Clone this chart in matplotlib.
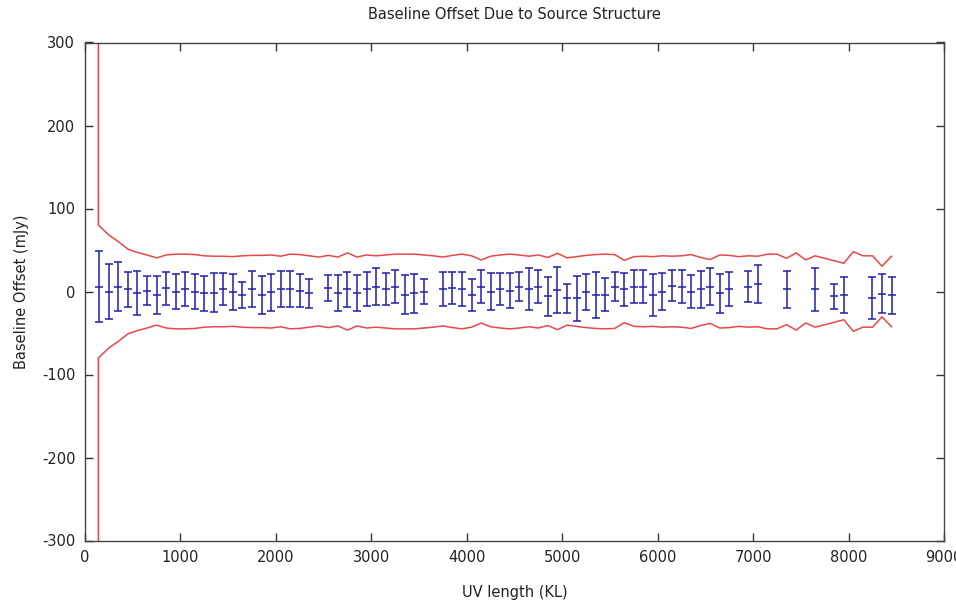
import matplotlib
matplotlib.use("Agg")
import matplotlib.pyplot as plt
import numpy as np

# ---- data ----
bar_x = [150, 250, 350, 450, 550, 650, 750, 850, 950, 1050, 1150, 1250, 1350, 1450,
         1550, 1650, 1750, 1850, 1950, 2050, 2150, 2250, 2350,
         2550, 2650, 2750, 2850, 2950, 3050, 3150, 3250, 3350, 3450, 3550,
         3750, 3850, 3950, 4050, 4150, 4250, 4350, 4450, 4550, 4650, 4750, 4850,
         4950, 5050, 5150, 5250, 5350, 5450, 5550, 5650, 5750, 5850, 5950, 6050,
         6150, 6250, 6350, 6450, 6550, 6650, 6750,
         6950, 7050, 7350, 7650, 7850, 7950, 8250, 8350, 8450]
bar_y = [6, 0, 6, 2.5, -1.5, 1, -4, 4, 0, 2.5, 0, -2, -1.5, 3,
         -1, -4, 3, -4, -1, 3, 3, 1, -2,
         4.5, -2, 2.5, -2, 3, 6, 3, 6, -4, -2, 0,
         3, 4, 3, -4, 6, 0, 3, 1, 6, 3, 6, -6,
         2, -8, -8, -1, -4, -4, 6, 2.5, 6, 6, -4, 0,
         7, 6, 0, 2.5, 6, -2, 2.5,
         6, 9, 2.5, 2.5, -6, -4.5, -8, -2.5, -4.5]
bar_err = [42.5, 33, 29, 21, 26.5, 17.5, 23, 20, 21, 20.5, 21, 21, 23.5, 19.5,
           21.5, 16, 21.5, 23, 22.5, 22, 21.5, 20, 17.5,
           15.5, 21.5, 21, 22, 21, 22.5, 19.5, 19.5, 23.5, 23.5, 15.5,
           20, 19.5, 20, 19.5, 19.5, 22.5, 19.5, 21, 17.5, 25, 19.5, 24,
           27.5, 17.5, 27, 21.5, 28, 20, 18, 19.5, 20, 19.5, 25, 22.5,
           18.5, 19.5, 19.5, 22.5, 22, 23.5, 20.5,
           19, 22.5, 22, 26, 15, 21.5, 25, 23, 22.5]

env_x = [40, 140, 250, 350, 450, 550, 650, 750, 850, 950, 1050, 1150, 1250, 1350,
         1450, 1550, 1650, 1750, 1850, 1950, 2050, 2150, 2250, 2350, 2450, 2550,
         2650, 2750, 2850, 2950, 3050, 3150, 3250, 3350, 3450, 3550, 3650, 3750,
         3850, 3950, 4050, 4150, 4250, 4350, 4450, 4550, 4650, 4750, 4850, 4950,
         5050, 5150, 5250, 5350, 5450, 5550, 5650, 5750, 5850, 5950, 6050, 6150,
         6250, 6350, 6450, 6550, 6650, 6750, 6850, 6950, 7050, 7150, 7250, 7350,
         7450, 7550, 7650, 7750, 7850, 7950, 8050, 8150, 8250, 8350, 8450]
env_upper = [100000, 80, 68, 60, 51, 47, 44, 40.5, 44, 45, 45, 44.5, 43, 42.5,
             42.5, 42, 43, 43.5, 43.5, 44, 42.5, 45, 44.5, 43, 41.5, 43.5,
             41.5, 46.5, 41.5, 44, 43, 44, 45, 45, 45, 44, 43, 41.5,
             43.5, 45, 43, 38, 42.5, 44, 45, 44, 42.5, 44, 41, 46,
             40.5, 42, 43.5, 44.5, 45, 44.5, 37.5, 42, 42.5, 42, 43, 42.5,
             43, 44.5, 41, 38.5, 44, 43.5, 42, 43, 42.5, 45, 45, 40,
             46.5, 38, 43, 40, 37, 34, 48, 43, 43, 30.5, 42.5]
env_lower = [-v for v in env_upper]

x_ticks = [0, 1000, 2000, 3000, 4000, 5000, 6000, 7000, 8000, 9000]
y_ticks = [-300, -200, -100, 0, 100, 200, 300]

plt.rcParams['font.family'] = ['DejaVu Sans']
plt.rcParams['axes.unicode_minus'] = False
fig = plt.figure(figsize=(9.56, 6.04), dpi=100)
ax = fig.add_axes([85/956, 1 - 540.5/604, (944 - 85)/956, (540.5 - 42.5)/604])

red = '#e8484a'
blue = '#1f1fae'
ax.plot(env_x, env_upper, color=red, lw=1.1, zorder=2)
ax.plot(env_x, env_lower, color=red, lw=1.1, zorder=2)
ax.errorbar(bar_x, bar_y, yerr=bar_err, fmt='_', color=blue, ecolor=blue,
            elinewidth=1.1, capsize=3, capthick=1.1, markersize=6,
            markeredgewidth=1.1, zorder=3)

ax.set_xlim(0, 9000)
ax.set_ylim(-300, 300)
ax.set_xticks(x_ticks)
ax.set_yticks(y_ticks)
ax.tick_params(direction='in', length=6, width=1, colors='#333333',
               top=True, right=True, labelsize=10.5, pad=7)
ax.tick_params(axis='both', labelcolor='#222222')
for s in ax.spines.values():
    s.set_color('#444444')
    s.set_linewidth(1)

ax.set_title('Baseline Offset Due to Source Structure', fontsize=10.5,
             color='#222222', pad=17)
ax.set_xlabel('UV length (KL)', fontsize=10.5, color='#222222', labelpad=14)
ax.set_ylabel('Baseline Offset (mJy)', fontsize=10.5, color='#222222', labelpad=9.5)

fig.savefig('out.png', dpi=100)
